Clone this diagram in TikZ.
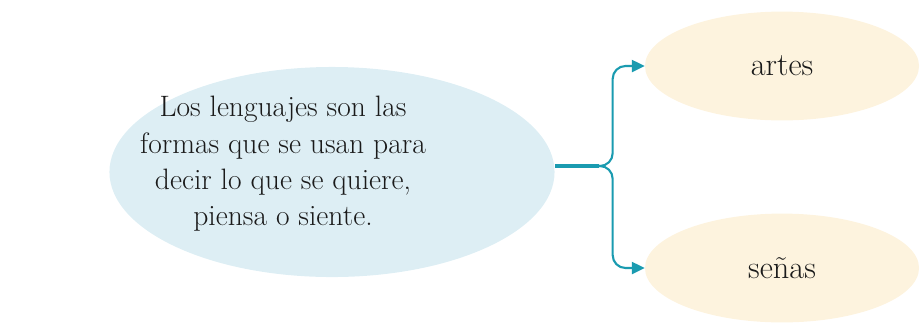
\documentclass[tikz,border=0pt]{standalone}
\usepackage{tikz}
\usetikzlibrary{arrows.meta,shapes.geometric}

\definecolor{teallink}{HTML}{1A9BB0}
\definecolor{ideablue}{HTML}{DDEEF4}
\definecolor{leafcream}{HTML}{FDF3DE}
\definecolor{inkgray}{HTML}{1A1A1A}

\begin{document}
\begin{tikzpicture}[x=0.025cm, y=-0.025cm,
    idea/.style={ellipse, fill=ideablue,
      minimum width=11.125cm, minimum height=5.25cm},
    ideatext/.style={text=inkgray, align=center,
      font=\fontsize{21}{25.8}\selectfont},
    leaf/.style={ellipse, fill=leafcream, text=inkgray,
      minimum width=6.85cm, minimum height=2.72cm,
      font=\fontsize{23}{26}\selectfont},
    stem/.style={teallink, line width=2.6pt},
    branch/.style={teallink, line width=1.5pt, rounded corners=0.32cm,
      -{Triangle[length=3.2mm, width=3mm]}}]
  \useasboundingbox (0,0) rectangle (922,325);

  % Central idea (text sits left of the ellipse centre)
  \node[idea] (lenguajes) at (332,172) {};
  \node[ideatext] (lenguajestext) at (283,164)
    {Los lenguajes son las\\formas que se usan para\\decir lo que se quiere,\\piensa o siente.};

  % Branches
  \node[leaf] (artes) at (782,66) {artes};
  \node[leaf] (senas) at (782,268) {señas};

  % Connector: stem, then split up and down
  \coordinate (hub) at (599,166);
  \draw[stem] (lenguajes.east |- hub) -- (hub);
  \draw[branch] (hub) -| ([xshift=-0.8cm]artes.west) -- (artes.west);
  \draw[branch] (hub) -| ([xshift=-0.8cm]senas.west) -- (senas.west);

\end{tikzpicture}
\end{document}
